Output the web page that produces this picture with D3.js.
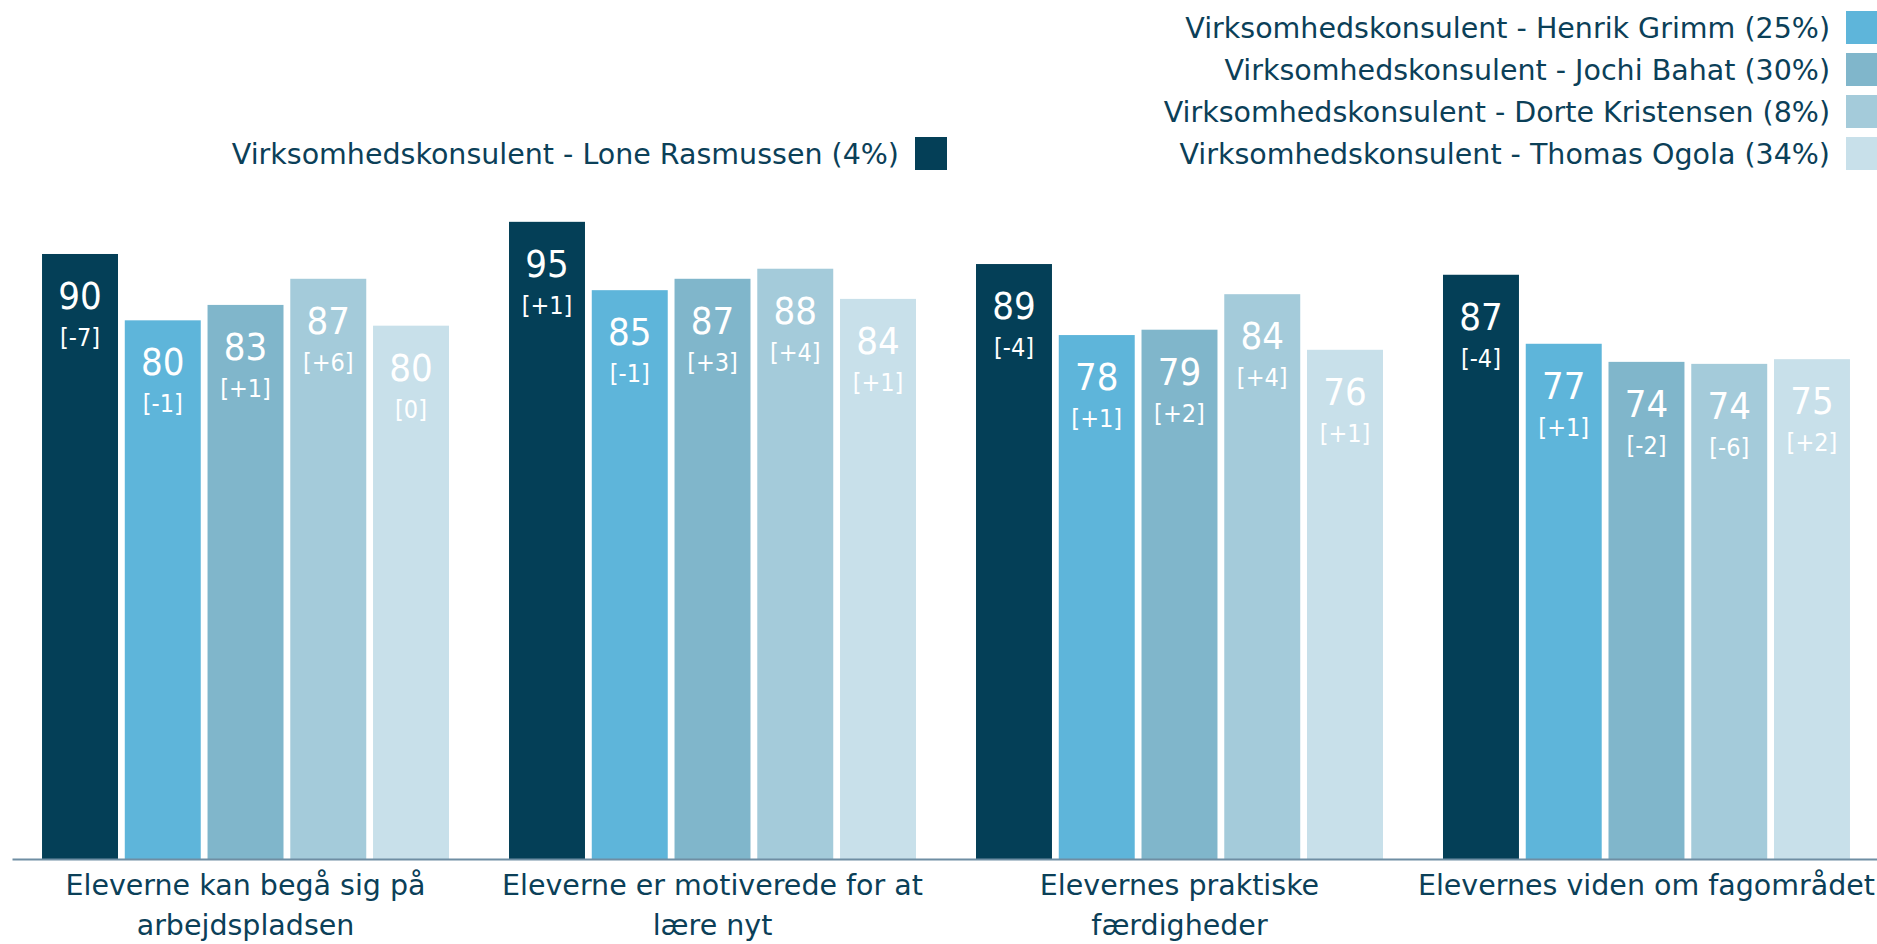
<!DOCTYPE html>
<html>
<head>
<meta charset="utf-8">
<script src="https://cdn.jsdelivr.net/npm/d3@7"></script>
<style>
    html, body { margin: 0; padding: 0; background: #fff; overflow: hidden; }
    svg { display: block; font-family: 'DejaVu Sans', sans-serif; }
    .barLabel { font-stretch: condensed; }
</style>
</head>
<body>
<svg id="chart" width="1877" height="944"></svg>
<script>
// categories (line breaks as in the original labels)
var categories = [
    'Eleverne kan begå sig på\narbejdspladsen',
    'Eleverne er motiverede for at\nlære nyt',
    'Elevernes praktiske\nfærdigheder',
    'Elevernes viden om fagområdet'
];

var series = [
    'Virksomhedskonsulent - Lone Rasmussen (4%)',
    'Virksomhedskonsulent - Henrik Grimm (25%)',
    'Virksomhedskonsulent - Jochi Bahat (30%)',
    'Virksomhedskonsulent - Dorte Kristensen (8%)',
    'Virksomhedskonsulent - Thomas Ogola (34%)'
];

// one array per consultant, one value per category
var loneValues   = [90.3, 95.1, 88.8, 87.2];
var henrikValues = [80.4, 84.9, 78.2, 76.9];
var jochiValues  = [82.7, 86.6, 79.0, 74.2];
var dorteValues  = [86.6, 88.1, 84.3, 73.9];
var thomasValues = [79.6, 83.6, 76.0, 74.6];

// change since last time, shown in brackets
var loneChange   = [-7, 1, -4, -4];
var henrikChange = [-1, -1, 1, 1];
var jochiChange  = [1, 3, 2, -2];
var dorteChange  = [6, 4, 4, -6];
var thomasChange = [0, 1, 1, 2];

var colors = ['#043f57', '#5eb5da', '#80b6cb', '#a4cbda', '#c8e0ea'];
var textColor = '#0b4058';

var values = [loneValues, henrikValues, jochiValues, dorteValues, thomasValues],
    changes = [loneChange, henrikChange, jochiChange, dorteChange, thomasChange];

var svg = d3.select('#chart'),
    baseY = 859;

var x0 = d3.scaleBand()
    .domain(categories)
    .range([12, 1880])
    .paddingInner(0.1285)
    .paddingOuter(0.0643);

var x1 = d3.scaleBand()
    .domain(series)
    .range([0, x0.bandwidth()])
    .paddingInner(0.082)
    .paddingOuter(0);

var y = d3.scaleLinear()
    .domain([0, 100])
    .range([baseY, baseY - 670]);

var fmtChange = function (d) {
    return '[' + (d > 0 ? '+' + d : d) + ']';
};

// flatten to one record per bar
var bars = [];
categories.forEach(function (c, ci) {
    series.forEach(function (s, si) {
        bars.push({cat: c, ser: s, si: si, value: values[si][ci], change: changes[si][ci]});
    });
});

var bar = svg.append('g').attr('class', 'bars')
    .selectAll('g')
    .data(bars)
    .enter().append('g')
    .attr('transform', function (d) {
        return 'translate(' + (x0(d.cat) + x1(d.ser)) + ',0)';
    });

bar.append('rect')
    .attr('x', 0)
    .attr('y', function (d) { return y(d.value); })
    .attr('width', x1.bandwidth())
    .attr('height', function (d) { return baseY - y(d.value); })
    .attr('fill', function (d) { return colors[d.si]; });

bar.append('text')
    .attr('class', 'barLabel')
    .attr('x', x1.bandwidth() / 2)
    .attr('y', function (d) { return y(d.value) + 55; })
    .attr('text-anchor', 'middle')
    .attr('fill', '#fff')
    .style('font-size', '38px')
    .text(function (d) { return Math.round(d.value); });

bar.append('text')
    .attr('class', 'barLabel')
    .attr('x', x1.bandwidth() / 2)
    .attr('y', function (d) { return y(d.value) + 92; })
    .attr('text-anchor', 'middle')
    .attr('fill', '#fff')
    .style('font-size', '25px')
    .text(function (d) { return fmtChange(d.change); });

// baseline
var xAxis = svg.append('g')
    .attr('transform', 'translate(0,' + baseY + ')')
    .call(d3.axisBottom(x0).tickSize(0).tickFormat(''));
xAxis.select('.domain').attr('stroke', '#6f8ea3').attr('stroke-width', 2);

// category labels
svg.append('g').selectAll('text')
    .data(categories)
    .enter().append('text')
    .attr('x', function (d) { return x0(d) + x0.bandwidth() / 2; })
    .attr('y', 895)
    .attr('text-anchor', 'middle')
    .attr('fill', textColor)
    .style('font-size', '28.5px')
    .each(function (d) {
        var t = d3.select(this);
        d.split('\n').forEach(function (line, i) {
            t.append('tspan')
                .attr('x', t.attr('x'))
                .attr('dy', i === 0 ? 0 : 40)
                .text(line);
        });
    });

// legend: first series sits alone on the last row, the rest stacked at the right edge
var legendPos = function (i) {
    if (i === 0) { return {right: 947, row: 3}; }
    return {right: 1878, row: i - 1};
};

var legend = svg.append('g').selectAll('g')
    .data(series)
    .enter().append('g')
    .attr('transform', function (d, i) {
        var p = legendPos(i);
        return 'translate(' + p.right + ',' + (27.5 + p.row * 42) + ')';
    });

legend.append('rect')
    .attr('x', -32)
    .attr('y', -16.5)
    .attr('width', 32)
    .attr('height', 33)
    .attr('fill', function (d, i) { return colors[i]; });

legend.append('text')
    .attr('x', -48)
    .attr('y', 10.5)
    .attr('text-anchor', 'end')
    .attr('fill', textColor)
    .style('font-size', '28.5px')
    .text(function (d) { return d; });
</script>
</body>
</html>
